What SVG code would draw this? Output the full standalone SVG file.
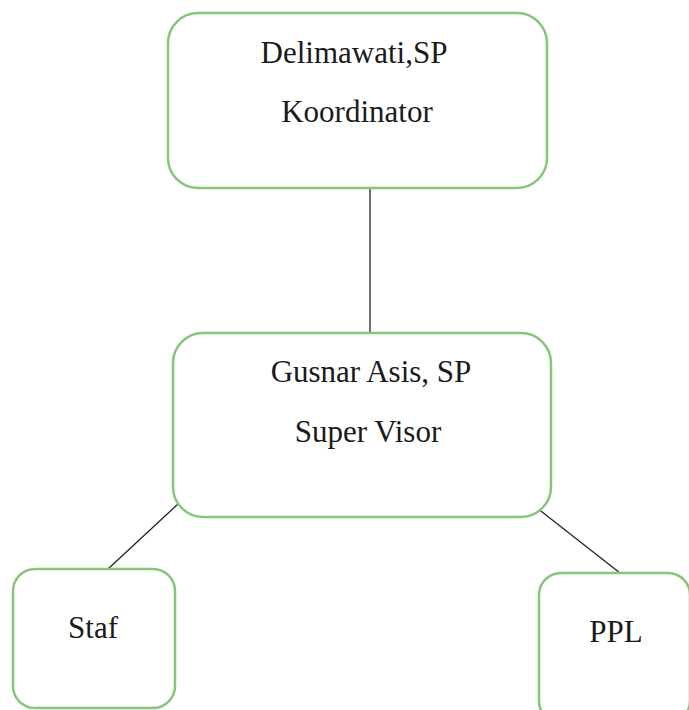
<svg xmlns="http://www.w3.org/2000/svg" width="689" height="710" viewBox="0 0 689 710">
<style>
.box{fill:#ffffff;stroke:#88c47a;stroke-width:2.5}
.lbl{font-family:"Liberation Serif","Times New Roman",serif;font-size:31px;fill:#1a1a1a;text-anchor:middle}
.conn{stroke:#222;stroke-width:1.3;fill:none}
</style>
<rect width="689" height="710" fill="#ffffff"/>
<g id="connectors">
<line class="conn" x1="370" y1="188" x2="370" y2="334"/>
<line class="conn" x1="178" y1="504" x2="108" y2="569"/>
<line class="conn" x1="537" y1="508" x2="620" y2="573"/>
</g>
<g id="koordinator">
<rect class="box" x="168" y="13" width="379" height="175" rx="30"/>
<text class="lbl" x="354" y="63">Delimawati,SP</text>
<text class="lbl" x="357" y="122">Koordinator</text>
</g>
<g id="supervisor">
<rect class="box" x="173" y="333" width="378" height="184" rx="30"/>
<text class="lbl" x="371" y="382">Gusnar Asis, SP</text>
<text class="lbl" x="368" y="442">Super Visor</text>
</g>
<g id="staf">
<rect class="box" x="13" y="569" width="162" height="139" rx="22"/>
<text class="lbl" x="93" y="638">Staf</text>
</g>
<g id="ppl">
<rect class="box" x="539" y="573" width="151" height="150" rx="22"/>
<text class="lbl" x="616" y="642">PPL</text>
</g>
</svg>
